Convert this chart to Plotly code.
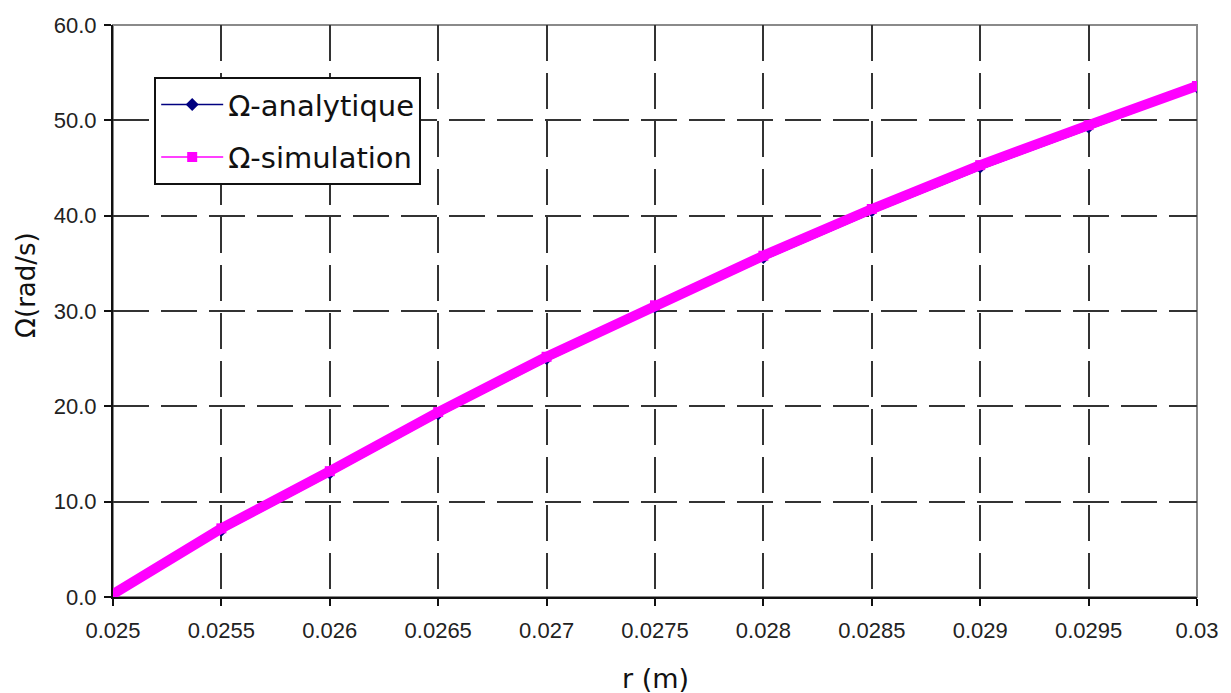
import plotly.graph_objects as go

# Data
r_m = [0.025, 0.0255, 0.026, 0.0265, 0.027, 0.0275, 0.028, 0.0285, 0.029, 0.0295, 0.03]
omega_simulation = [0.3, 7.2, 13.2, 19.4, 25.2, 30.6, 35.8, 40.7, 45.3, 49.5, 53.6]
omega_analytique = [0.0, 6.8, 12.8, 19.0, 24.8, 30.2, 35.4, 40.3, 44.9, 49.1, 53.3]

x_tickvals = [0.025, 0.0255, 0.026, 0.0265, 0.027, 0.0275, 0.028, 0.0285, 0.029, 0.0295, 0.03]
x_ticktext = ["0.025", "0.0255", "0.026", "0.0265", "0.027", "0.0275", "0.028", "0.0285", "0.029", "0.0295", "0.03"]
y_tickvals = [0, 10, 20, 30, 40, 50, 60]
y_ticktext = ["0.0", "10.0", "20.0", "30.0", "40.0", "50.0", "60.0"]

NAVY = "#000080"
MAGENTA = "#FF00FF"

fig = go.Figure()

# Actual data curves (no legend)
fig.add_trace(go.Scatter(
    x=r_m, y=omega_analytique, mode="lines+markers",
    line=dict(color=NAVY, width=2),
    marker=dict(symbol="diamond", size=7, color=NAVY),
    showlegend=False, hoverinfo="skip"))
fig.add_trace(go.Scatter(
    x=r_m, y=omega_simulation, mode="lines+markers",
    line=dict(color=MAGENTA, width=10),
    marker=dict(symbol="square", size=10, color=MAGENTA),
    showlegend=False, hoverinfo="skip"))

# Legend entries (thin line + marker as in the reference legend)
fig.add_trace(go.Scatter(
    x=[None], y=[None], mode="lines+markers", name="Ω-analytique",
    line=dict(color=NAVY, width=1.5),
    marker=dict(symbol="diamond", size=10, color=NAVY),
    legendgroup="a"))
fig.add_trace(go.Scatter(
    x=[None], y=[None], mode="lines+markers", name="Ω-simulation",
    line=dict(color=MAGENTA, width=1.5),
    marker=dict(symbol="square", size=10, color=MAGENTA),
    legendgroup="b"))

GRID = dict(showgrid=True, gridcolor="#333333", gridwidth=2, griddash="36px,12px")

fig.update_xaxes(
    range=[0.025, 0.03], tickmode="array", tickvals=x_tickvals, ticktext=x_ticktext,
    ticks="outside", ticklen=7, tickwidth=1.5, tickcolor="#111111",
    showline=True, linecolor="#111111", linewidth=2, zeroline=False,
    tickfont=dict(family="Liberation Sans", size=22, color="#222222"),
    ticklabelstandoff=6, automargin=False,
    **GRID)
fig.update_yaxes(
    range=[0, 60], tickmode="array", tickvals=y_tickvals, ticktext=y_ticktext,
    ticks="outside", ticklen=7, tickwidth=1.5, tickcolor="#111111",
    showline=True, linecolor="#111111", linewidth=2, zeroline=False,
    tickfont=dict(family="Liberation Sans", size=22, color="#222222"),
    ticklabelstandoff=3, automargin=False,
    **GRID)

# The page body adds an 8px offset; size/margins compensate for it
fig.update_layout(
    width=1223, height=685,
    margin=dict(l=105, r=34, t=17, b=96, autoexpand=False),
    paper_bgcolor="white", plot_bgcolor="white",
    font=dict(family="DejaVu Sans", color="#111111"),
    legend=dict(
        x=0.038, y=0.909, xanchor="left", yanchor="top",
        bgcolor="white", bordercolor="#111111", borderwidth=2,
        font=dict(family="DejaVu Sans", size=29, color="#111111"),
        tracegroupgap=12, itemwidth=62),
    shapes=[dict(type="rect", xref="paper", yref="paper", x0=0, x1=1, y0=0, y1=1,
                 line=dict(color="#8a8a8a", width=2), layer="between")],
    annotations=[
        dict(text="r (m)", xref="paper", yref="paper", x=0.5, y=-0.142,
             xanchor="center", yanchor="middle", showarrow=False,
             font=dict(family="DejaVu Sans", size=27, color="#111111")),
        dict(text="Ω(rad/s)", xref="paper", yref="paper", x=-0.081, y=0.546,
             xanchor="center", yanchor="middle", showarrow=False, textangle=-90,
             font=dict(family="DejaVu Sans", size=26, color="#111111")),
    ],
)

fig.write_html("out.html")
